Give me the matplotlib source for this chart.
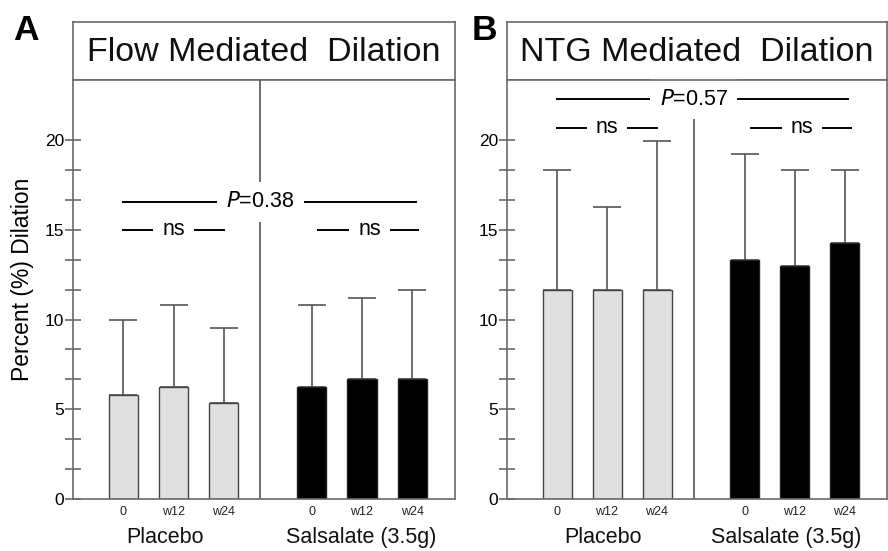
import matplotlib
matplotlib.use("Agg")
import matplotlib.pyplot as plt
import numpy as np

plt.rcParams['font.family'] = ['Liberation Sans', 'DejaVu Sans']

# ---------------- data ----------------
categories = ["0", "w12", "w24"]
groups = ["Placebo", "Salsalate (3.5g)"]

fmd_placebo_mean = [5.8, 6.25, 5.36]
fmd_placebo_sd = [4.2, 4.55, 4.19]
fmd_salsalate_mean = [6.25, 6.67, 6.67]
fmd_salsalate_sd = [4.55, 4.53, 4.96]

ntg_placebo_mean = [11.63, 11.63, 11.63]
ntg_placebo_sd = [6.7, 4.66, 8.32]
ntg_salsalate_mean = [13.33, 12.96, 14.24]
ntg_salsalate_sd = [5.87, 5.37, 4.09]

titles = ["Flow Mediated  Dilation", "NTG Mediated  Dilation"]
panel_letters = ["A", "B"]
p_texts = ["=0.38", "=0.57"]
ylabel = "Percent (%) Dilation"
yticks = [0, 5, 10, 15, 20]

# ---------------- figure ----------------
W, H = 888, 551
fig = plt.figure(figsize=(W / 100, H / 100), dpi=100)

def fx(px):
    return px / W

def fy(py):
    return 1 - py / H

line_gray = "#555555"
box_gray = "#6a6a6a"

panels = [
    dict(left=73, right=455, means=(fmd_placebo_mean, fmd_salsalate_mean),
         sds=(fmd_placebo_sd, fmd_salsalate_sd), p_y=16.55, ns_y=14.99,
         div_top=None, group_x=(0.84, 4.74), letter_x=13, title_x=264),
    dict(left=507, right=887, means=(ntg_placebo_mean, ntg_salsalate_mean),
         sds=(ntg_placebo_sd, ntg_salsalate_sd), p_y=22.28, ns_y=20.69,
         div_top=21.28, group_x=(0.91, 4.59), letter_x=472, title_x=697),
]

plot_top, plot_bot, title_top = 80, 499, 22
xlim = (-1.0, 6.6)
ymax = (plot_bot - plot_top) / 17.95
pos_placebo = np.array([0, 1, 2])
pos_sals = np.array([3.75, 4.75, 5.75])
divider_x = 2.73
bar_w = 0.58

for i, pn in enumerate(panels):
    L, R = pn["left"], pn["right"]
    # title box
    tax = fig.add_axes([fx(L), fy(plot_top), fx(R - L), (plot_top - title_top) / H])
    tax.set_xticks([]); tax.set_yticks([])
    for s in tax.spines.values():
        s.set_color(box_gray); s.set_linewidth(1.2)
    tax.text(0.5, 0.33, titles[i], transform=tax.transAxes, ha="center",
             va="baseline", fontsize=24.5, color="#111111")
    fig.text(fx(pn["letter_x"]), fy(40), panel_letters[i], fontsize=25.5,
             fontweight="bold", ha="left", va="baseline")

    ax = fig.add_axes([fx(L), fy(plot_bot), fx(R - L), (plot_bot - plot_top) / H])
    ax.set_xlim(*xlim)
    ax.set_ylim(0, ymax)
    for s in ax.spines.values():
        s.set_color(box_gray); s.set_linewidth(1.2); s.set_zorder(10)

    mp, ms = pn["means"]
    sp, ss = pn["sds"]
    ax.bar(pos_placebo, mp, width=bar_w, color="#e0e0e0", edgecolor="#444444",
           linewidth=1.0, zorder=3)
    ax.bar(pos_sals, ms, width=bar_w, color="black", edgecolor="#222222",
           linewidth=1.0, zorder=3)
    for pos, m, s in ((pos_placebo, mp, sp), (pos_sals, ms, ss)):
        ax.errorbar(pos, m, yerr=[np.zeros(len(s)), s], fmt="none",
                    ecolor=line_gray, elinewidth=1.2, capsize=10.4,
                    capthick=1.2, zorder=2)

    # divider
    top = ymax if pn["div_top"] is None else pn["div_top"]
    ax.plot([divider_x, divider_x], [0, top], color=line_gray, lw=1.2, zorder=1)

    # significance annotations
    bb = dict(boxstyle="square,pad=0.42", fc="white", ec="none")
    ax.plot([0.0, 5.82], [pn["p_y"]] * 2, color="black", lw=1.4, zorder=4)
    ax.text(divider_x, pn["p_y"], "$\\it{P}$" + p_texts[i], ha="center", va="center",
            fontsize=15.5, bbox=dict(boxstyle="square,pad=0.45", fc="white", ec="none"),
            zorder=5)
    ax.plot([0.0, 2.0], [pn["ns_y"]] * 2, color="black", lw=1.4, zorder=4)
    ax.text(1.0, pn["ns_y"], "ns", ha="center", va="center", fontsize=15.5,
            bbox=bb, zorder=5)
    ax.plot([3.88, 5.87], [pn["ns_y"]] * 2, color="black", lw=1.4, zorder=4)
    ax.text(4.9, pn["ns_y"], "ns", ha="center", va="center", fontsize=15.5,
            bbox=bb, zorder=5)

    # axes ticks
    ax.set_yticks(yticks)
    ax.set_yticklabels([str(t) for t in yticks], fontsize=12.5)
    minor = [t for t in np.arange(0, 20.01, 5 / 3) if min(abs(t - y) for y in yticks) > 0.1]
    ax.set_yticks(minor, minor=True)
    ax.tick_params(axis="y", which="both", direction="inout", length=11,
                   width=1.2, color=box_gray, pad=1)
    ax.set_xticks(list(pos_placebo) + list(pos_sals))
    ax.set_xticklabels(categories + categories, fontsize=9, color="#222222")
    ax.tick_params(axis="x", length=0, pad=5)

    for gx, g in zip(pn["group_x"], groups):
        ax.text(gx, -38.5 / 17.95, g, ha="center", va="center", fontsize=15.5,
                color="#111111")
    if i == 0:
        fig.text(fx(22), fy(279), ylabel, rotation=90, ha="center", va="center",
                 fontsize=16.5)

fig.savefig("out.png", dpi=100)
